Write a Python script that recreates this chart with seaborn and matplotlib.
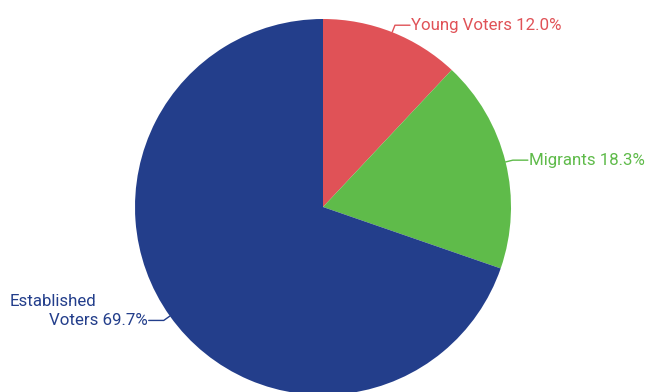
import numpy as np
import matplotlib
matplotlib.use("Agg")
import matplotlib.pyplot as plt
import seaborn as sns

# data
groups = ["Young Voters", "Migrants", "Established Voters"]
shares = [12.0, 18.3, 69.7]
colors = ["#E05257", "#5FBB4A", "#233E8B"]

sns.set_theme(style="white")
plt.rcParams["font.family"] = ["Roboto", "DejaVu Sans"]

fig = plt.figure(figsize=(6.47, 3.92), dpi=100)
ax = fig.add_axes([0, 0, 1, 1])
wedges, _ = ax.pie(shares, colors=colors, startangle=90, counterclock=False,
                   radius=1.0, center=(0, 0), wedgeprops=dict(linewidth=0))
ax.set_aspect("auto")
ax.set_xlim(-323 / 188, (647 - 323) / 188)
ax.set_ylim(-(392 - 207) / 188, 207 / 188)
ax.axis("off")

fs = 12.2
for w, name, val, col in zip(wedges, groups, shares, colors):
    mid = np.deg2rad((w.theta1 + w.theta2) / 2)
    x0, y0 = np.cos(mid), np.sin(mid)
    kx, ky = 1.04 * x0, 1.04 * y0
    side = 1 if x0 >= 0 else -1
    ex = kx + side * 0.08
    ax.plot([x0, kx, ex], [y0, ky, ky], color=col, lw=1, clip_on=False)
    if side > 0:
        ax.text(ex + 0.005, ky, f"{name} {val:.1f}%", color=col, fontsize=fs,
                ha="left", va="center")
    else:
        first, second = name.split(" ", 1)
        ax.text(ex - 0.005, ky, f"{second} {val:.1f}%", color=col, fontsize=fs,
                ha="right", va="center")
        ax.text(10 / 188 - 323 / 188, ky + 0.1, first, color=col, fontsize=fs,
                ha="left", va="center")

fig.savefig("out.png", dpi=100)
